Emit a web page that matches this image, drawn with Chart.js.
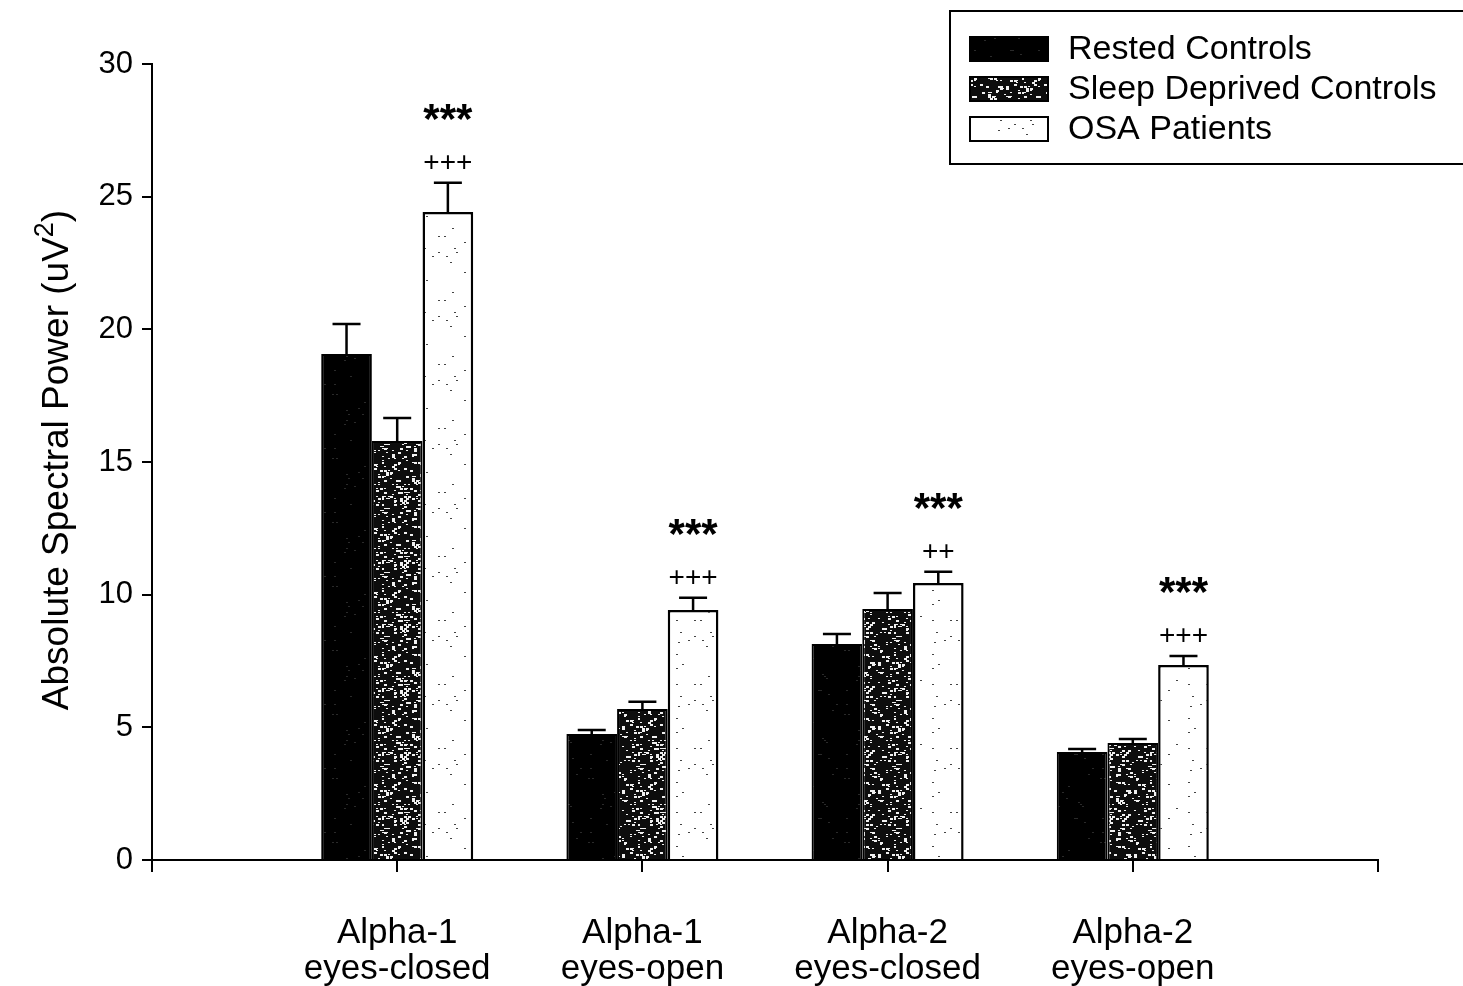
<!DOCTYPE html>
<html>
<head>
<meta charset="utf-8">
<script src="https://cdn.jsdelivr.net/npm/chart.js@4.4.1/dist/chart.umd.min.js"></script>
<style>
  html, body { margin: 0; padding: 0; background: #fff; }
  #wrap { width: 1463px; height: 986px; position: relative; }
</style>
</head>
<body>
<div id="wrap"><canvas id="chart" width="1463" height="986"></canvas></div>
<script>
// data
const categories = [['Alpha-1', 'eyes-closed'], ['Alpha-1', 'eyes-open'], ['Alpha-2', 'eyes-closed'], ['Alpha-2', 'eyes-open']];
const seriesNames = ['Rested Controls', 'Sleep Deprived Controls', 'OSA Patients'];
const rested = [19.07, 4.75, 8.14, 4.07];
const restedSem = [1.13, 0.15, 0.38, 0.11];
const sleepDeprived = [15.79, 5.69, 9.46, 4.41];
const sleepDeprivedSem = [0.87, 0.27, 0.6, 0.15];
const osa = [24.42, 9.42, 10.44, 7.35];
const osaSem = [1.1, 0.46, 0.42, 0.34];
const starMarks = ['***', '***', '***', '***'];
const plusMarks = ['+++', '+++', '++', '+++'];
const yTicks = [0, 5, 10, 15, 20, 25, 30];

const FONT = "'Liberation Sans', Arial, sans-serif";

// speckled fills like the scanned bars
function speckle(bg, dot, every, seed, size) {
    const c = document.createElement('canvas');
    c.width = 64; c.height = 64;
    const g = c.getContext('2d');
    g.fillStyle = bg;
    g.fillRect(0, 0, 64, 64);
    g.fillStyle = dot;
    let s = seed >>> 0;
    for (let y = 0; y < 64; y += 2) {
        for (let x = 0; x < 64; x += 2) {
            s = (Math.imul(s, 1664525) + 1013904223) >>> 0;
            if (((s >>> 16) % every) === 0) {
                const w = ((s >>> 8) & 1) ? size : size - 1 || 1;
                g.fillRect(x, y, w + 1, w);
            }
        }
    }
    return g.createPattern(c, 'repeat');
}
const fillRested = speckle('#000', '#2a2a2a', 60, 7, 1);
const fillSleep = speckle('#0d0d0d', '#f0f0f0', 6, 11, 2);
const fillOsa = speckle('#fff', '#444', 45, 3, 1);

// index 0 and 5 are the empty axis ends
const pad = (arr) => [null, ...arr, null];
const sems = [restedSem, sleepDeprivedSem, osaSem];

const errorBars = {
    id: 'errorBars',
    afterDatasetsDraw(chart) {
        const ctx = chart.ctx;
        const y = chart.scales.y;
        ctx.save();
        ctx.strokeStyle = '#000';
        ctx.lineWidth = 2.5;
        chart.data.datasets.forEach((ds, di) => {
            const meta = chart.getDatasetMeta(di);
            meta.data.forEach((bar, i) => {
                if (ds.data[i] == null) return;
                const top = y.getPixelForValue(ds.data[i] + sems[di][i - 1]);
                ctx.beginPath();
                ctx.moveTo(bar.x, bar.y);
                ctx.lineTo(bar.x, top);
                ctx.moveTo(bar.x - 14, top);
                ctx.lineTo(bar.x + 14, top);
                ctx.stroke();
            });
        });
        // significance marks above OSA bars
        const osaMeta = chart.getDatasetMeta(2);
        ctx.fillStyle = '#000';
        ctx.textAlign = 'center';
        ctx.textBaseline = 'alphabetic';
        osaMeta.data.forEach((bar, i) => {
            if (osa[i - 1] == null) return;
            const top = y.getPixelForValue(osa[i - 1] + osaSem[i - 1]);
            ctx.font = 'bold 42px ' + FONT;
            ctx.fillText(starMarks[i - 1], bar.x, top - 70 + 20);
            ctx.font = '28px ' + FONT;
            ctx.fillText(plusMarks[i - 1], bar.x, top - 22 + 10);
        });
        ctx.restore();
    }
};

const yTitle = {
    id: 'yTitle',
    afterDraw(chart) {
        const ctx = chart.ctx;
        ctx.save();
        ctx.translate(68, 460);
        ctx.rotate(-Math.PI / 2);
        ctx.fillStyle = '#000';
        ctx.textBaseline = 'alphabetic';
        const main = 'Absolute Spectral Power (uV';
        ctx.font = '37px ' + FONT;
        const w1 = ctx.measureText(main).width;
        ctx.font = '27px ' + FONT;
        const w2 = ctx.measureText('2').width;
        ctx.font = '37px ' + FONT;
        const w3 = ctx.measureText(')').width;
        const total = w1 + w2 + w3;
        let x = -total / 2;
        ctx.textAlign = 'left';
        ctx.fillText(main, x, 0);
        x += w1;
        ctx.font = '27px ' + FONT;
        ctx.fillText('2', x, -15);
        x += w2;
        ctx.font = '37px ' + FONT;
        ctx.fillText(')', x, 0);
        ctx.restore();
    }
};

const legendBox = {
    id: 'legendBox',
    afterDraw(chart) {
        const ctx = chart.ctx;
        ctx.save();
        ctx.strokeStyle = '#000';
        ctx.lineWidth = 2;
        ctx.strokeRect(950, 11, 540, 153);
        const fills = [fillRested, fillSleep, fillOsa];
        ctx.font = '34px ' + FONT;
        ctx.textBaseline = 'middle';
        ctx.textAlign = 'left';
        chart.data.datasets.forEach((ds, i) => {
            const cy = 49 + i * 40;
            ctx.fillStyle = fills[i];
            ctx.fillRect(970, cy - 12, 78, 24);
            ctx.lineWidth = 2;
            ctx.strokeRect(970, cy - 12, 78, 24);
            ctx.fillStyle = '#000';
            ctx.fillText(ds.label, 1068, cy + 1);
        });
        ctx.restore();
    }
};

new Chart(document.getElementById('chart'), {
    type: 'bar',
    data: {
        labels: ['', ...categories, ''],
        datasets: [
            { label: seriesNames[0], data: pad(rested), backgroundColor: fillRested, borderColor: '#000', borderWidth: 2 },
            { label: seriesNames[1], data: pad(sleepDeprived), backgroundColor: fillSleep, borderColor: '#000', borderWidth: 2 },
            { label: seriesNames[2], data: pad(osa), backgroundColor: fillOsa, borderColor: '#000', borderWidth: 2.5 }
        ]
    },
    options: {
        responsive: false,
        animation: false,
        devicePixelRatio: 1,
        layout: { padding: { top: 64, right: 85, left: 0, bottom: 0 } },
        datasets: { bar: { categoryPercentage: 0.62, barPercentage: 1.0 } },
        plugins: {
            legend: { display: false },
            tooltip: { enabled: false }
        },
        scales: {
            x: {
                offset: false,
                grid: { display: true, offset: false, drawOnChartArea: false, drawTicks: true, tickLength: 12, color: '#000', lineWidth: 2 },
                border: { display: true, color: '#000', width: 2 },
                ticks: {
                    color: '#000',
                    maxRotation: 0,
                    autoSkip: false,
                    padding: 43,
                    font: { family: FONT, size: 35, lineHeight: 1.03 }
                },
                afterFit: (s) => { s.height = 126; }
            },
            y: {
                min: 0,
                max: 30,
                afterBuildTicks: (s) => { s.ticks = yTicks.map(v => ({ value: v })); },
                grid: { display: true, drawOnChartArea: false, drawTicks: true, tickLength: 10, color: '#000', lineWidth: 2 },
                border: { display: true, color: '#000', width: 2 },
                ticks: {
                    color: '#000',
                    padding: 9,
                    font: { family: FONT, size: 31 }
                },
                afterFit: (s) => { s.width = 152; }
            }
        }
    },
    plugins: [errorBars, yTitle, legendBox]
});
</script>
</body>
</html>
